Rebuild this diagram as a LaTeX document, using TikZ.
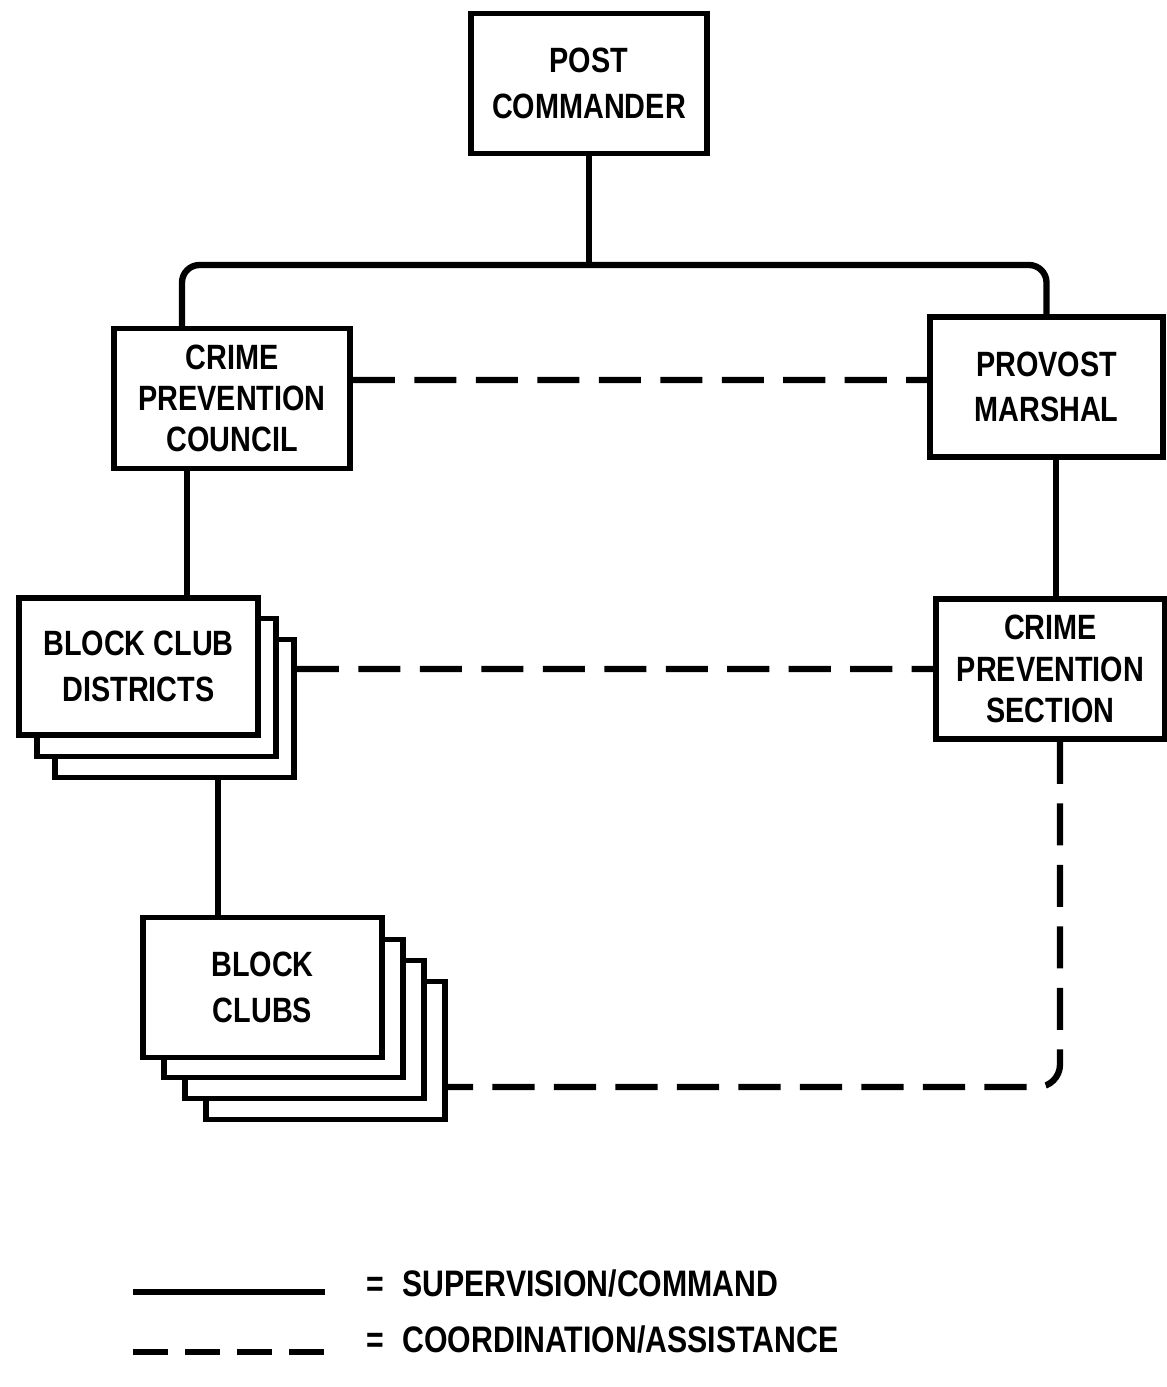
\documentclass[tikz,border=0pt]{standalone}
\usepackage{fontspec}
\setmainfont{Liberation Sans}[FakeStretch=0.82]
\usetikzlibrary{positioning,calc}
\tikzset{
  box/.style={draw=black,fill=white,line width=3.2pt,minimum width=4.72cm,
    minimum height=2.8cm,align=center,inner sep=2pt,
    font=\fontsize{20}{26}\selectfont\bfseries},
  tallbox/.style={box,font=\fontsize{20}{23.5}\selectfont\bfseries},
  stackbox/.style={draw=black,fill=white,line width=3.2pt,minimum width=4.78cm,
    minimum height=2.76cm},
  cmd/.style={line width=3.6pt,rounded corners=0.35cm},
  coop/.style={line width=3.6pt,dash pattern=on 24pt off 11pt,rounded corners=0.45cm},
  legendtext/.style={anchor=west,inner sep=0pt,font=\fontsize{21}{26}\selectfont\bfseries}
}

\begin{document}
\begin{tikzpicture}[x=0.02cm,y=-0.02cm]
  \useasboundingbox (0,0) rectangle (1167,1387);
  % top of the chart
  \node[box] (pc) at (589,83.5) {POST\\COMMANDER};
  \node[tallbox] (cpc) at (232,398.5) {CRIME\\PREVENTION\\COUNCIL};
  \node[box,minimum width=4.66cm] (pm) at (1046.5,387) {PROVOST\\MARSHAL};
  \node[tallbox,minimum width=4.58cm] (cps) at (1050.5,669) {CRIME\\PREVENTION\\SECTION};
  % stacked boxes
  \node[stackbox] (bcd3) at (174.5,708.5) {};
  \node[stackbox] (bcd2) at (156.5,687.5) {};
  \node[box,minimum width=4.78cm,minimum height=2.74cm] (bcd) at (138.5,666.5) {BLOCK CLUB\\DISTRICTS};
  \node[stackbox] (bc4) at (325.5,1050.5) {};
  \node[stackbox] (bc3) at (304.5,1029.5) {};
  \node[stackbox] (bc2) at (283.5,1008.5) {};
  \node[box,minimum width=4.78cm] (bc) at (262.5,987.5) {BLOCK\\CLUBS};
  % supervision
  \coordinate (bus) at (589,265);
  \coordinate (cpcin) at (182,328);
  \coordinate (bcdin) at (187,598);
  \coordinate (bcin) at (218,918);
  \coordinate (cpsin) at (1056,598);
  \draw[cmd] (pc.south) -- (bus);
  \draw[cmd] (cpcin) |- (bus) -| (pm.north);
  \draw[cmd] (cpc.south -| bcdin) -- (bcdin);
  \draw[cmd] (bcd3.south -| bcin) -- (bcin);
  \draw[cmd] (pm.south -| cpsin) -- (cpsin);
  % coordination
  \draw[coop] ([yshift=0.37cm]cpc.east) -- ([yshift=0.14cm]pm.west);
  \draw[coop] ([yshift=0.79cm]bcd3.east) -- (cps.west);
  \draw[coop] ([xshift=0.19cm]cps.south) |- ([yshift=-0.73cm]bc4.east);
  % legend
  \coordinate (l1a) at (133,1292);
  \coordinate (l1b) at (325,1292);
  \coordinate (l2a) at (133,1352);
  \coordinate (l2b) at (325,1352);
  \draw[cmd] (l1a) -- (l1b);
  \draw[coop,dash pattern=on 20pt off 9.6pt] (l2a) -- (l2b);
  \node[legendtext] (lsup) at (366,1283) {=\enspace SUPERVISION/COMMAND};
  \node[legendtext] (lcoo) at (366,1339) {=\enspace COORDINATION/ASSISTANCE};
\end{tikzpicture}
\end{document}
